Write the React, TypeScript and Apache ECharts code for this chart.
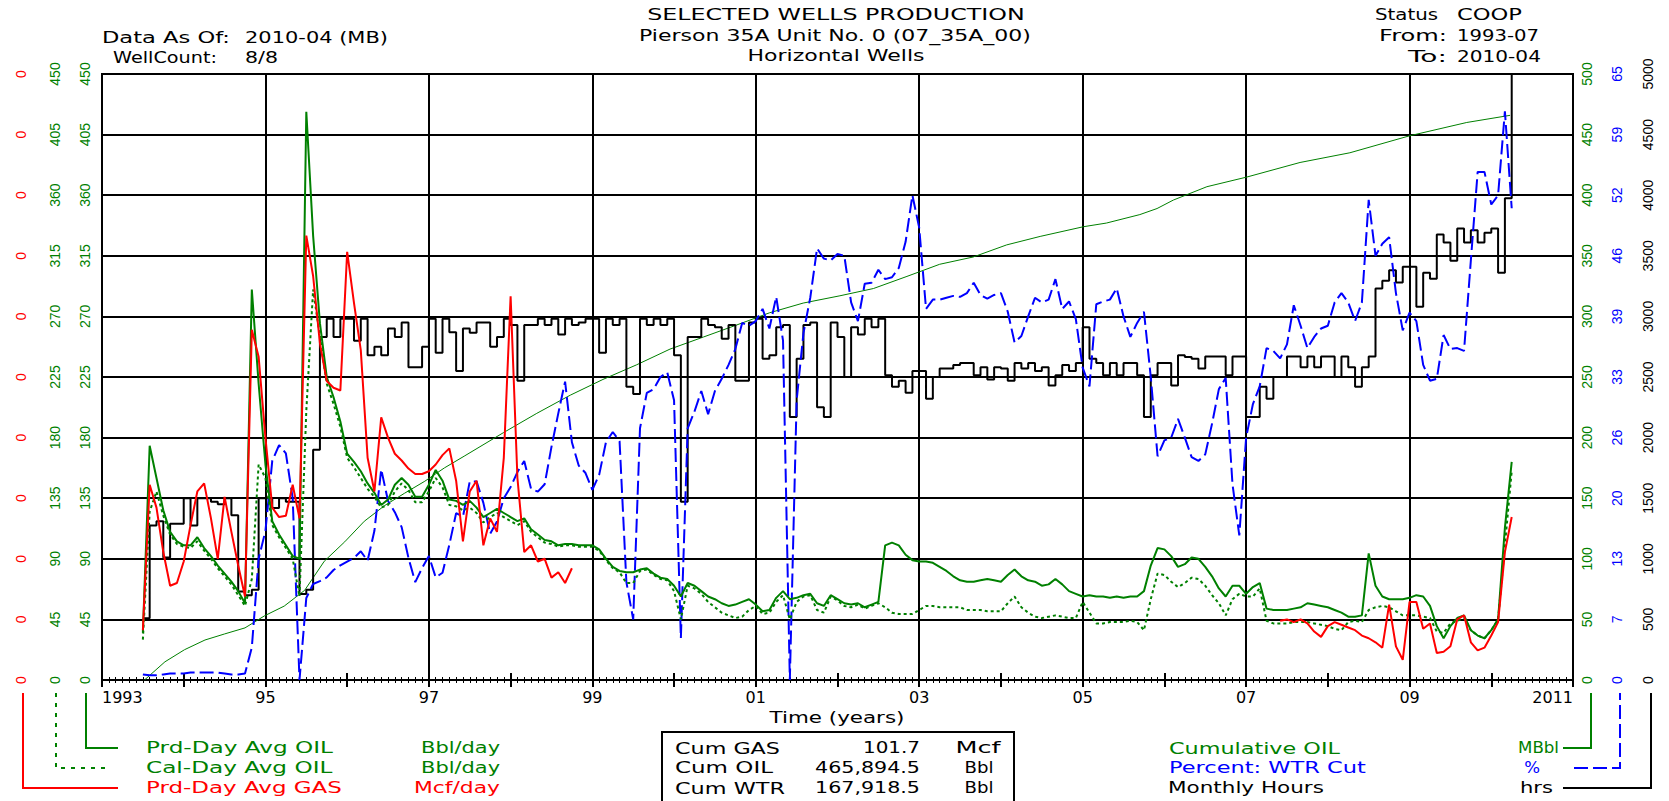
import React, { useEffect, useRef } from "react";
import * as echarts from "echarts";

// ---------------- DATA (monthly values, first month = 1993-07) ----------------
const FIRST_MONTH = 1993 + 6 / 12;

const xTickLabels = ["1993", "95", "97", "99", "01", "03", "05", "07", "09", "2011"];
const gasTickLabels = ["0", "0", "0", "0", "0", "0", "0", "0", "0", "0", "0"];
const oilTickLabels = ["0", "45", "90", "135", "180", "225", "270", "315", "360", "405", "450"];
const cumTickLabels = ["0", "50", "100", "150", "200", "250", "300", "350", "400", "450", "500"];
const wtrTickLabels = ["0", "7", "13", "20", "26", "33", "39", "46", "52", "59", "65"];
const hrsTickLabels = ["0", "500", "1000", "1500", "2000", "2500", "3000", "3500", "4000", "4500", "5000"];

// Monthly Hours (hrs)
const monthlyHours = [
  510, 1275, 1310, 1010, 1290, 1290, 1500, 1275, 1500, 1500, 1470, 1450,
  1500, 1360, 730, 700, 745, 1500, 1500, 1420, 1500, 1470, 1470, 710,
  745, 1900, 2830, 2980, 2830, 2980, 2980, 2800, 2980, 2680, 2750, 2680,
  2900, 2830, 2950, 2580, 2580, 2750, 2980, 2700, 2980, 2870, 2550, 2900,
  2865, 2950, 2950, 2750, 2830, 2980, 2930, 2470, 2930, 2930, 2980, 2930,
  2980, 2850, 2980, 2930, 2950, 2980, 2980, 2700, 2980, 2930, 2980, 2420,
  2360, 2980, 2930, 2980, 2930, 2980, 2680, 1470, 2830, 2830, 2980, 2930,
  2910, 2815, 2930, 2470, 2470, 2950, 2980, 2650, 2680, 2910, 2930, 2170,
  2650, 2930, 2950, 2250, 2170, 2950, 2830, 2500, 2910, 2850, 2980, 2910,
  2980, 2515, 2420, 2470, 2370, 2550, 2550, 2320, 2500, 2570, 2570, 2600,
  2615, 2615, 2515, 2580, 2480, 2580, 2570, 2470, 2615, 2570, 2615, 2550,
  2580, 2430, 2515, 2600, 2550, 2615, 2910, 2650, 2615, 2515, 2615, 2515,
  2615, 2615, 2515, 2170, 2515, 2615, 2615, 2430, 2680, 2665, 2650, 2570,
  2670, 2670, 2670, 2515, 2670, 2670, 2170, 2170, 2420, 2320, 2500, 2500,
  2670, 2670, 2580, 2670, 2580, 2670, 2670, 2500, 2670, 2580, 2420, 2580,
  2670, 3230, 3295, 3380, 3280, 3410, 3410, 3080, 3360, 3310, 3675, 3610,
  3460, 3725, 3610, 3710, 3610, 3690, 3725, 3360, 3975, 5400,
];

// Prd-Day Avg OIL (Bbl/day)
const prdDayOil = [
  35, 174, 150, 126, 110, 103, 100, 100, 106, 98, 92, 85,
  79, 73, 66, 57, 290, 220, 160, 118, 108, 100, 92, 90,
  422, 330, 265, 225, 210, 192, 168, 162, 155, 146, 139, 130,
  134, 145, 150, 145, 136, 136, 145, 156, 148, 134, 133, 130,
  133, 128, 121, 124, 127, 124, 121, 118, 120, 112, 108, 104,
  103, 100, 101, 101, 100, 100, 100, 97, 90, 84, 81, 80,
  80, 82, 83, 79, 76, 75, 70, 62, 72, 70, 66, 62,
  60, 57, 55, 56, 58, 60, 56, 51, 52, 61, 66, 60,
  61, 63, 64, 57, 55, 63, 60, 57, 56, 57, 54, 56,
  58, 100, 102, 100, 93, 89, 88, 88, 87, 84, 81, 77,
  74, 73, 73, 74, 75, 74, 73, 78, 82, 77, 74, 73,
  70, 71, 75, 71, 66, 64, 62, 63, 62, 62, 61, 62,
  61, 62, 62, 66, 85, 98, 97, 92, 84, 86, 91, 90,
  84, 77, 68, 62, 70, 70, 64, 69, 72, 53, 52, 52,
  52, 53, 54, 57, 56, 55, 54, 52, 50, 47, 47, 48,
  94, 70, 62, 60, 60, 60, 61, 63, 62, 55, 40, 31,
  40, 46, 48, 37, 33, 31, 37, 45, 113, 162,
];

// Cal-Day Avg OIL (Bbl/day)
const calDayOil = [
  30, 125, 140, 122, 108, 101, 99, 98, 103, 96, 90, 83,
  77, 71, 63, 55, 75, 160, 150, 115, 106, 98, 90, 62,
  200, 290, 255, 220, 205, 188, 165, 158, 150, 142, 136, 128,
  130, 140, 146, 141, 132, 132, 140, 150, 143, 130, 129, 126,
  128, 124, 117, 121, 124, 121, 118, 115, 118, 110, 106, 102,
  101, 99, 100, 100, 99, 99, 99, 96, 89, 83, 80, 72,
  72, 81, 82, 78, 75, 74, 66, 45, 70, 68, 64, 58,
  54, 50, 48, 46, 47, 52, 55, 49, 50, 58, 63, 45,
  58, 62, 63, 52, 50, 62, 59, 55, 54, 56, 53, 55,
  57, 54, 50, 49, 49, 49, 52, 55, 55, 54, 54, 54,
  54, 52, 52, 52, 51, 51, 51, 57, 62, 54, 50, 47,
  46, 47, 48, 47, 46, 46, 58, 50, 42, 42, 43, 43,
  43, 44, 43, 37, 60, 79, 78, 73, 69, 72, 76, 75,
  70, 63, 57, 48, 60, 64, 62, 62, 68, 44, 42, 42,
  42, 43, 43, 43, 42, 41, 40, 38, 37, 43, 44, 43,
  52, 54, 55, 54, 51, 48, 48, 48, 47, 46, 36, 35,
  42, 44, 46, 37, 33, 31, 37, 45, 100, 155,
];

// Prd-Day Avg GAS (Mcf/day) - two reported periods
const GAS_EARLY_START = 0; // 1993-07
const gasEarly = [
  0.037, 0.145, 0.128, 0.095, 0.07, 0.072, 0.088, 0.115, 0.14, 0.146, 0.12, 0.09,
  0.136, 0.11, 0.085, 0.062, 0.26, 0.24, 0.18, 0.128, 0.121, 0.122, 0.145, 0.12,
  0.33, 0.3, 0.25, 0.222, 0.217, 0.215, 0.318, 0.28, 0.245, 0.165, 0.14, 0.195,
  0.18, 0.168, 0.163, 0.157, 0.153, 0.153, 0.155, 0.16, 0.167, 0.172, 0.148, 0.103,
  0.14, 0.148, 0.1, 0.12, 0.11, 0.165, 0.285, 0.15, 0.095, 0.1, 0.088, 0.09,
  0.076, 0.08, 0.072, 0.083,
];
const GAS_LATE_START = 167; // 2007-06
const gasLate = [
  0.044, 0.045, 0.043, 0.045, 0.042, 0.036, 0.032, 0.04, 0.043, 0.041,
  0.039, 0.037, 0.033, 0.031, 0.028, 0.024, 0.056, 0.025, 0.015, 0.058,
  0.058, 0.038, 0.042, 0.02, 0.021, 0.025, 0.045, 0.048, 0.028, 0.022,
  0.024, 0.033, 0.043, 0.095, 0.121,
];

// Percent: WTR Cut (%)
const waterCut = [
  0.6, 0.5, 0.5, 0.6, 0.7, 0.7, 0.7, 0.8, 0.8, 0.8, 0.8, 0.8,
  0.7, 0.6, 0.6, 0.7, 3.5, 13, 16, 23.5, 25.2, 24.3, 19.5, 0,
  8.8, 10.3, 10.6, 11, 11.8, 12.3, 12.7, 13.1, 13.8, 12.8, 16, 22.6,
  19.2, 18, 16.4, 13.1, 10.5, 12, 13.3, 11, 11.5, 14.5, 17.9, 17.5,
  21.3, 21.3, 19, 15.7, 17, 19.5, 20.7, 22.3, 23.5, 20.5, 20.2, 21,
  25, 28.6, 32, 25.5, 23, 22.2, 20.4, 22, 25.5, 26.6, 25.6, 10.5,
  6.5, 27, 30.8, 31.2, 32.5, 33, 30, 4.5, 27, 28.8, 31, 28.5,
  31, 32.3, 33.8, 35.5, 38.3, 38, 38.5, 39.8, 37.7, 41.1, 36.4, 0,
  30, 37.2, 41, 46.3, 45.2, 45, 45.7, 45.5, 40.5, 38.5, 42.5, 42.6,
  44, 43, 43.2, 44.2, 47, 52, 48.5, 39.8, 40.8, 40.8, 41, 41.2,
  41.1, 41.5, 42.6, 41.3, 40.9, 41.3, 41.5, 39.5, 36.2, 36.9, 39, 41,
  40.5, 40.8, 43, 39.8, 40.6, 38.7, 33.5, 31.5, 40.3, 40.6, 40.8, 42,
  39, 36.8, 38.3, 39.5, 32.5, 24, 25.7, 26, 28, 26, 23.9, 23.5,
  24.2, 27.5, 31.2, 32.4, 21, 15.5, 26, 29.6, 31.5, 35.6, 35.3, 34.5,
  36, 40.2, 38, 35.6, 36.8, 37.7, 38, 40.5, 41.5, 40.5, 38.5, 40.5,
  51.5, 45.5, 46.8, 47.5, 41.5, 37.5, 39.4, 38.5, 33.8, 32.1, 32.3, 37,
  35.5, 35.6, 35.3, 45, 54.5, 54.5, 51, 52, 61, 50.6,
];

// Cumulative OIL (MBbl) read at [decimal year, value]
const cumulativeOil: [number, number][] = [
  [1993.52, 0], [1993.77, 15], [1994.01, 25], [1994.26, 33], [1994.5, 38], [1994.75, 43],
  [1994.99, 53], [1995.23, 61], [1995.48, 74], [1995.72, 98], [1995.97, 114], [1996.21, 131],
  [1996.46, 144], [1996.7, 154], [1996.95, 164], [1997.19, 175], [1997.44, 185], [1997.91, 204],
  [1998.32, 220], [1998.73, 235], [1999.13, 248], [1999.54, 260], [1999.95, 273], [2000.36, 283],
  [2000.77, 293], [2001.17, 303], [2001.58, 311], [2002.03, 317], [2002.44, 323], [2002.85, 333],
  [2003.25, 343], [2003.66, 349], [2004.07, 359], [2004.48, 366], [2005.01, 374], [2005.29, 377],
  [2005.7, 384], [2005.91, 389], [2006.11, 396], [2006.52, 407], [2007.01, 415], [2007.66, 427],
  [2008.27, 435], [2009.0, 449], [2009.7, 460], [2010.23, 465.9],
];

const headerLeft = [
  ["Data As Of:", "2010-04 (MB)"],
  ["WellCount:", "8/8"],
];
const headerRight = [
  ["Status", "COOP"],
  ["From:", "1993-07"],
  ["To:", "2010-04"],
];
const titleLines = ["SELECTED WELLS PRODUCTION", "Pierson 35A Unit No. 0 (07_35A_00)", "Horizontal Wells"];
const cumSummary = [
  ["Cum GAS", "101.7", "Mcf"],
  ["Cum OIL", "465,894.5", "Bbl"],
  ["Cum WTR", "167,918.5", "Bbl"],
];
const leftLegend = [
  ["Prd-Day Avg OIL", "Bbl/day"],
  ["Cal-Day Avg OIL", "Bbl/day"],
  ["Prd-Day Avg GAS", "Mcf/day"],
];
const rightLegend = [
  ["Cumulative OIL", "MBbl"],
  ["Percent: WTR Cut", "%"],
  ["Monthly Hours", "hrs"],
];

// ---------------- STYLE ----------------
const GREEN = "#008000";
const RED = "#ff0000";
const BLUE = "#0000ff";
const BLACK = "#000000";
const TXT_FONT = "DejaVu Sans";
const TXT_SIZE = 15;

let measureCtx: CanvasRenderingContext2D | null = null;
function textWidth(s: string, size = TXT_SIZE): number {
  if (!measureCtx) measureCtx = document.createElement("canvas").getContext("2d");
  if (!measureCtx) return s.length * size * 0.6;
  measureCtx.font = `${size}px "${TXT_FONT}"`;
  return measureCtx.measureText(s).width;
}

function txt(text: string, x: number, y: number, align: string, color: string, width?: number, stretch?: number) {
  const w = textWidth(text);
  const sx = width ? width / w : stretch || 1.3;
  return {
    type: "text",
    x,
    y,
    scaleX: sx,
    silent: true,
    z: 100,
    style: {
      text,
      fill: color,
      font: `${TXT_SIZE}px "${TXT_FONT}"`,
      fontSize: TXT_SIZE,
      fontFamily: TXT_FONT,
      align,
      textAlign: align,
      verticalAlign: "middle",
      textVerticalAlign: "middle",
    },
  };
}

function poly(points: number[][], color: string, dash?: number[]) {
  return {
    type: "polyline",
    silent: true,
    z: 100,
    shape: { points },
    style: { stroke: color, lineWidth: 2, fill: "none", lineDash: dash || null },
  };
}

const monthX = (i: number) => FIRST_MONTH + i / 12;
const toSeries = (vals: number[], start = 0) => vals.map((v, k) => [monthX(start + k), v]);

function buildOption() {
  const stretchTitle = 392 / textWidth(titleLines[1]);
  const stretchLegend = 187 / textWidth(leftLegend[0][0]);
  const stretchUnit = 41 / textWidth(rightLegend[0][1]);

  const graphics: any[] = [
    txt(titleLines[0], 836, 15, "center", BLACK, 378),
    txt(titleLines[1], 835, 36, "center", BLACK, 392),
    txt(titleLines[2], 836, 56, "center", BLACK, undefined, stretchTitle),
    txt(headerLeft[0][0], 102, 38, "left", BLACK, 128),
    txt(headerLeft[0][1], 245, 38, "left", BLACK, 143),
    txt(headerLeft[1][0], 113, 58, "left", BLACK, 104),
    txt(headerLeft[1][1], 245, 58, "left", BLACK, 33),
    txt(headerRight[0][0], 1375, 15, "left", BLACK, 63),
    txt(headerRight[0][1], 1457, 15, "left", BLACK, 65),
    txt(headerRight[1][0], 1379, 36, "left", BLACK, 68),
    txt(headerRight[1][1], 1457, 36, "left", BLACK, 82),
    txt(headerRight[2][0], 1408, 57, "left", BLACK, 39),
    txt(headerRight[2][1], 1457, 57, "left", BLACK, 84),
    txt("Time (years)", 837, 718, "center", BLACK, 135),
    // left legend
    txt(leftLegend[0][0], 146, 748, "left", GREEN, 187),
    txt(leftLegend[1][0], 146, 768, "left", GREEN, undefined, stretchLegend),
    txt(leftLegend[2][0], 146, 788, "left", RED, 196),
    txt(leftLegend[0][1], 500, 748, "right", GREEN, 79),
    txt(leftLegend[1][1], 500, 768, "right", GREEN, 79),
    txt(leftLegend[2][1], 500, 788, "right", RED, 86),
    poly([[86, 693], [86, 748], [118, 748]], GREEN),
    poly([[56, 693], [56, 768], [110, 768]], GREEN, [4, 6]),
    poly([[23, 693], [23, 788], [118, 788]], RED),
    // summary box
    {
      type: "rect",
      silent: true,
      z: 99,
      shape: { x: 662, y: 732, width: 352, height: 90 },
      style: { fill: "#ffffff", stroke: BLACK, lineWidth: 2 },
    },
    txt(cumSummary[0][0], 675, 748, "left", BLACK, 105),
    txt(cumSummary[1][0], 675, 768, "left", BLACK, 98),
    txt(cumSummary[2][0], 675, 788, "left", BLACK, 110),
    txt(cumSummary[0][1], 920, 748, "right", BLACK, 57),
    txt(cumSummary[1][1], 920, 768, "right", BLACK, 105),
    txt(cumSummary[2][1], 920, 788, "right", BLACK, 105),
    txt(cumSummary[0][2], 978, 748, "center", BLACK, 45),
    txt(cumSummary[1][2], 979, 768, "center", BLACK, 29),
    txt(cumSummary[2][2], 979, 788, "center", BLACK, 29),
    // right legend
    txt(rightLegend[0][0], 1169, 748, "left", GREEN, 171),
    txt(rightLegend[1][0], 1169, 768, "left", BLUE, 197),
    txt(rightLegend[2][0], 1168, 788, "left", BLACK, 156),
    txt(rightLegend[0][1], 1559, 748, "right", GREEN, 41),
    txt(rightLegend[1][1], 1540, 768, "right", BLUE, undefined, stretchUnit),
    txt(rightLegend[2][1], 1553, 788, "right", BLACK, 33),
    poly([[1563, 748], [1591, 748], [1591, 693]], GREEN),
    poly([[1574, 768], [1620, 768], [1620, 693]], BLUE, [14, 5]),
    poly([[1563, 788], [1651, 788], [1651, 693]], BLACK),
  ];

  const xCommon: any = {
    type: "value",
    min: 1993,
    max: 2011,
    axisLine: { show: false },
    splitLine: { show: false },
    axisLabel: { show: false },
  };
  const tickStyle = { color: BLACK, width: 1 };
  const xAxis: any[] = [
    {
      ...xCommon,
      position: "bottom",
      interval: 2,
      axisLabel: {
        show: true,
        formatter: (v: number) => xTickLabels[Math.round((v - 1993) / 2)] ?? "",
        color: BLACK,
        fontFamily: "DejaVu Sans",
        fontSize: 16,
        margin: 9,
        showMinLabel: true,
        showMaxLabel: true,
        alignMinLabel: "left",
        alignMaxLabel: "right",
      },
      splitLine: { show: true, lineStyle: { color: BLACK, width: 2 } },
      axisTick: { show: true, inside: true, length: 3, lineStyle: tickStyle },
      minorTick: { show: true, splitNumber: 24, length: 3, lineStyle: tickStyle },
    },
    {
      ...xCommon,
      position: "bottom",
      interval: 1,
      axisTick: { show: true, inside: true, length: 7, lineStyle: { color: BLACK, width: 2 } },
    },
    {
      ...xCommon,
      position: "top",
      interval: 2,
      axisTick: { show: true, inside: true, length: 3, lineStyle: tickStyle },
      minorTick: { show: true, splitNumber: 24, length: 3, lineStyle: tickStyle },
    },
    {
      ...xCommon,
      position: "top",
      interval: 1,
      axisTick: { show: true, inside: true, length: 7, lineStyle: { color: BLACK, width: 2 } },
    },
  ];

  const yAx = (
    position: string,
    max: number,
    interval: number,
    labels: string[],
    color: string,
    margin: number,
    split = false
  ): any => ({
    type: "value",
    position,
    min: 0,
    max,
    interval,
    axisLine: { show: false },
    axisTick: { show: false },
    splitLine: { show: split, lineStyle: { color: BLACK, width: 2 } },
    axisLabel: {
      rotate: 90,
      color,
      fontFamily: "Liberation Sans",
      fontSize: 14,
      margin,
      showMinLabel: true,
      showMaxLabel: true,
      formatter: (v: number) => labels[Math.round(v / interval)] ?? "",
    },
  });

  const yAxis = [
    yAx("left", 0.45, 0.045, gasTickLabels, RED, 74),
    yAx("left", 450, 45, oilTickLabels, GREEN, 40, true),
    yAx("left", 450, 45, oilTickLabels, GREEN, 10),
    yAx("right", 500, 50, cumTickLabels, GREEN, 7),
    yAx("right", 65, 6.5, wtrTickLabels, BLUE, 37),
    yAx("right", 5000, 500, hrsTickLabels, BLACK, 68),
  ];

  const gasData: any[] = [
    ...toSeries(gasEarly, GAS_EARLY_START),
    [monthX(GAS_EARLY_START + gasEarly.length), null],
    ...toSeries(gasLate, GAS_LATE_START),
  ];

  const base = { type: "line", symbol: "none", showSymbol: false, silent: true, xAxisIndex: 0, connectNulls: false };

  return {
    animation: false,
    backgroundColor: "#ffffff",
    grid: {
      left: 102,
      right: 96,
      top: 74,
      bottom: 121,
      show: true,
      borderColor: BLACK,
      borderWidth: 2,
      backgroundColor: "transparent",
      containLabel: false,
      outerBoundsMode: "none",
    },
    xAxis,
    yAxis,
    series: [
      {
        ...base,
        name: "Cumulative OIL",
        yAxisIndex: 3,
        z: 2,
        data: cumulativeOil,
        lineStyle: { color: GREEN, width: 1 },
      },
      {
        ...base,
        name: "Monthly Hours",
        yAxisIndex: 5,
        z: 3,
        step: "end",
        data: toSeries(monthlyHours),
        lineStyle: { color: BLACK, width: 2 },
      },
      {
        ...base,
        name: "Percent: WTR Cut",
        yAxisIndex: 4,
        z: 4,
        data: toSeries(waterCut),
        lineStyle: { color: BLUE, width: 2, type: [14, 5] },
      },
      {
        ...base,
        name: "Cal-Day Avg OIL",
        yAxisIndex: 2,
        z: 5,
        data: toSeries(calDayOil),
        lineStyle: { color: GREEN, width: 2, type: [3, 3] },
      },
      {
        ...base,
        name: "Prd-Day Avg OIL",
        yAxisIndex: 1,
        z: 6,
        data: toSeries(prdDayOil),
        lineStyle: { color: GREEN, width: 2 },
      },
      {
        ...base,
        name: "Prd-Day Avg GAS",
        yAxisIndex: 0,
        z: 7,
        data: gasData,
        lineStyle: { color: RED, width: 2 },
      },
    ],
    graphic: graphics,
  };
}

export default function App() {
  const ref = useRef<HTMLDivElement>(null);
  useEffect(() => {
    if (!ref.current) return;
    const chart = echarts.init(ref.current, undefined, { renderer: "svg" });
    chart.setOption(buildOption() as any);
    return () => chart.dispose();
  }, []);
  return (
    <div
      ref={ref}
      style={{ position: "absolute", left: 0, top: 0, width: 1669, height: 801, background: "#ffffff" }}
    />
  );
}
